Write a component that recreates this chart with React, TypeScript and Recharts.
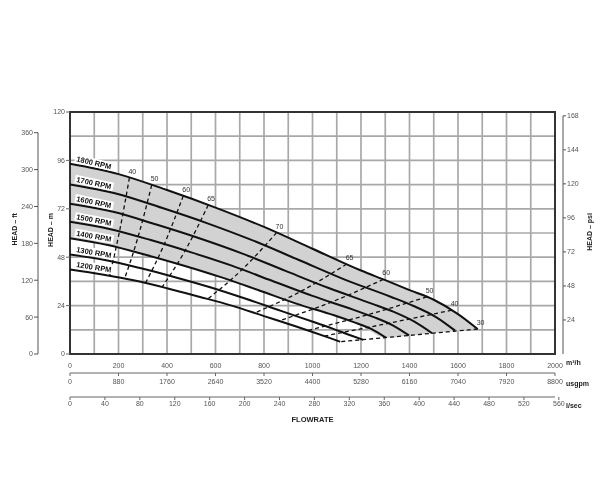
import React from "react";
import {
  Area,
  CartesianGrid,
  ComposedChart,
  Line,
  ReferenceArea,
  XAxis,
  YAxis,
} from "recharts";

// pump curves: flow in m³/h, head in m
const flow1800 = [0, 200, 400, 600, 800, 1000, 1200, 1300, 1400, 1500, 1600, 1681];
const head1800 = [94.3, 89.2, 81.3, 72.6, 63.0, 52.2, 41.4, 36.6, 31.7, 26.9, 19.8, 12.4];
const flow1700 = [0, 189, 378, 567, 756, 944, 1133, 1322, 1417, 1511, 1588];
const head1700 = [84.1, 79.6, 72.5, 64.8, 56.2, 46.6, 36.9, 28.4, 23.8, 18.2, 11.6];
const flow1600 = [0, 178, 356, 533, 711, 889, 1067, 1244, 1333, 1422, 1493];
const head1600 = [74.5, 70.5, 64.2, 57.4, 49.8, 41.2, 32.7, 25.0, 21.0, 15.9, 10.3];
const flow1500 = [0, 167, 333, 500, 667, 833, 1000, 1167, 1250, 1333, 1398];
const head1500 = [65.6, 61.9, 56.5, 50.4, 43.8, 36.3, 28.8, 22.0, 18.4, 14.1, 9.2];
const flow1400 = [0, 156, 311, 467, 622, 778, 933, 1089, 1167, 1244, 1302];
const head1400 = [57.4, 54.0, 49.2, 43.9, 38.1, 31.6, 25.0, 19.2, 15.9, 12.3, 8.1];
const flow1300 = [0, 144, 289, 433, 578, 722, 867, 1011, 1083, 1156, 1210];
const head1300 = [49.3, 46.6, 42.6, 38.1, 33.1, 27.5, 21.5, 15.6, 12.6, 9.3, 7.0];
const flow1200 = [0, 133, 267, 400, 533, 667, 800, 933, 1000, 1067, 1114];
const head1200 = [41.9, 39.4, 36.4, 32.6, 28.4, 24.0, 18.8, 13.6, 10.9, 8.1, 6.1];

// lower edge of the grey band, at the 1800 rpm flows
const shadeFloor = [57.4, 52.7, 46.1, 39.0, 30.6, 22.4, 14.4, 8.1, 9.2, 10.4, 11.5, 12.4];

// efficiency lines: points on the 1800, 1500 and 1200 rpm curves
const effNames = ["40", "50", "60", "65", "70", "65", "60", "50", "40", "30"];
const effFlow = [
  [245, 204, 163],
  [337, 281, 225],
  [467, 389, 311],
  [570, 475, 380],
  [852, 710, 568],
  [1141, 951, 761],
  [1292, 1077, 861],
  [1471, 1226, 981],
  [1574, 1312, 1049],
  [1681, 1398, 1114],
];
const effHead = [
  [87.4, 60.7, 38.7],
  [83.8, 58.2, 37.3],
  [78.4, 54.5, 35.1],
  [73.9, 51.3, 33.2],
  [60.2, 41.9, 27.3],
  [44.6, 31.0, 20.3],
  [37.0, 25.7, 16.4],
  [28.3, 19.4, 11.7],
  [21.7, 15.2, 8.9],
  [12.4, 9.2, 6.1],
];

const flowTicks = [0, 200, 400, 600, 800, 1000, 1200, 1400, 1600, 1800, 2000];
const flowGrid = [0, 100, 200, 300, 400, 500, 600, 700, 800, 900, 1000, 1100, 1200, 1300, 1400, 1500, 1600, 1700, 1800, 1900, 2000];
const gpmTicks = [0, 880, 1760, 2640, 3520, 4400, 5280, 6160, 7040, 7920, 8800];
const lsTicks = [0, 40, 80, 120, 160, 200, 240, 280, 320, 360, 400, 440, 480, 520, 560];
const headTicks = [0, 24, 48, 72, 96, 120];
const headGrid = [0, 12, 24, 36, 48, 60, 72, 84, 96, 108, 120];
const ftTicks = [0, 60, 120, 180, 240, 300, 360];
const psiTicks = [24, 48, 72, 96, 120, 144, 168];

const curves = [
  { name: "1800 RPM", flow: flow1800, head: head1800, tilt: 13 },
  { name: "1700 RPM", flow: flow1700, head: head1700, tilt: 12 },
  { name: "1600 RPM", flow: flow1600, head: head1600, tilt: 11.5 },
  { name: "1500 RPM", flow: flow1500, head: head1500, tilt: 11 },
  { name: "1400 RPM", flow: flow1400, head: head1400, tilt: 10 },
  { name: "1300 RPM", flow: flow1300, head: head1300, tilt: 9.5 },
  { name: "1200 RPM", flow: flow1200, head: head1200, tilt: 9 },
];

const band = flow1800.map((q, i) => ({ q, band: [shadeFloor[i], head1800[i]] }));

const tickStyle = { fontSize: 7, fill: "#555" };
const ink = "#111";

function rpmLabel(text: string, tilt: number) {
  return (p: any) => {
    if (p.index !== 0) return null;
    const x = p.x + 6;
    const y = p.y - 2.5;
    return (
      <g transform={`translate(${x},${y}) rotate(${tilt})`}>
        <rect x={-1.5} y={-7} width={39} height={8.5} fill="#fff" />
        <text x={0} y={0} fontSize={7.5} fontWeight="bold" fill={ink}>
          {text}
        </text>
      </g>
    );
  };
}

function effLabel(text: string) {
  return (p: any) =>
    p.index === 0 ? (
      <text x={p.x - 1} y={p.y - 4} fontSize={7} fill="#333">
        {text}
      </text>
    ) : null;
}

function sideTitle(text: string, dx: number, dy: number) {
  return (p: any) => {
    const vb = p.viewBox;
    const x = vb.x + dx;
    const y = vb.y + vb.height / 2 + dy;
    return (
      <text x={x} y={y} transform={`rotate(-90 ${x} ${y})`} textAnchor="middle" dominantBaseline="central" fontSize={7} fontWeight="bold" fill="#222">
        {text}
      </text>
    );
  };
}

function unitTitle(text: string, dy: number) {
  return (p: any) => {
    const vb = p.viewBox;
    return (
      <text x={vb.x + vb.width + 11} y={vb.y + dy} dominantBaseline="central" fontSize={7} fontWeight="bold" fill="#222">
        {text}
      </text>
    );
  };
}

function flowTitle(p: any) {
  const vb = p.viewBox;
  return (
    <text x={vb.x + vb.width / 2} y={vb.y + 22} textAnchor="middle" dominantBaseline="central" fontSize={7.5} fontWeight="bold" fill="#222">
      FLOWRATE
    </text>
  );
}

function MainChart() {
  return (
    <ComposedChart width={600} height={500} margin={{ top: 112, right: 45, bottom: 73, left: 38 }}>
      <CartesianGrid xAxisId="ax1" yAxisId="m" stroke="#a8a8a8" strokeWidth={1.7} verticalValues={flowGrid} horizontalValues={headGrid} />
      <XAxis
        xAxisId="ax1"
        dataKey="q"
        type="number"
        domain={[0, 2000]}
        ticks={flowTicks}
        height={19}
        tickLine={false}
        axisLine={false}
        tickMargin={3}
        tick={tickStyle}
        interval={0}
        label={{ content: unitTitle("m³/h", 8) }}
      />
      <XAxis
        xAxisId="ax2"
        dataKey="q"
        type="number"
        domain={[0, 8800]}
        ticks={gpmTicks}
        height={24}
        tickSize={3}
        tickMargin={3}
        axisLine={{ stroke: "#666" }}
        tickLine={{ stroke: "#666" }}
        tick={tickStyle}
        interval={0}
        label={{ content: unitTitle("usgpm", 10) }}
      />
      <XAxis
        xAxisId="ax3"
        dataKey="q"
        type="number"
        domain={[0, 555.6]}
        ticks={lsTicks}
        height={30}
        tickSize={3}
        tickMargin={1}
        axisLine={{ stroke: "#666" }}
        tickLine={{ stroke: "#666" }}
        tick={tickStyle}
        interval={0}
        allowDataOverflow
        label={{ content: (p: any) => <g>{unitTitle("l/sec", 8)(p)}{flowTitle(p)}</g> }}
      />
      <YAxis
        yAxisId="m"
        type="number"
        domain={[0, 120]}
        ticks={headTicks}
        width={32}
        tickSize={4}
        tickMargin={1}
        axisLine={false}
        tickLine={{ stroke: "#666" }}
        tick={tickStyle}
        interval={0}
        label={{ content: sideTitle("HEAD – m", 12, -3) }}
      />
      {/* invisible series so the two extra flow axes get drawn */}
      <Line xAxisId="ax2" yAxisId="m" data={gpmTicks.map((q) => ({ q, h: 0 }))} dataKey="h" stroke="none" dot={false} activeDot={false} isAnimationActive={false} />
      <Line xAxisId="ax3" yAxisId="m" data={lsTicks.map((q) => ({ q, h: 0 }))} dataKey="h" stroke="none" dot={false} activeDot={false} isAnimationActive={false} />
      <Area
        xAxisId="ax1"
        yAxisId="m"
        data={band}
        dataKey="band"
        type="monotone"
        stroke="none"
        fill="#d2d2d2"
        fillOpacity={1}
        isAnimationActive={false}
      />
      {effNames.map((name, k) => (
        <Line
          key={`eff${k}`}
          xAxisId="ax1"
          yAxisId="m"
          data={effFlow[k].map((q, i) => ({ q, h: effHead[k][i] }))}
          dataKey="h"
          type="monotone"
          stroke={ink}
          strokeWidth={1.3}
          strokeDasharray="4 3"
          dot={false}
          activeDot={false}
          label={effLabel(name)}
          isAnimationActive={false}
        />
      ))}
      {curves.map((c) => (
        <Line
          key={c.name}
          xAxisId="ax1"
          yAxisId="m"
          data={c.flow.map((q, i) => ({ q, h: c.head[i] }))}
          dataKey="h"
          type="monotone"
          stroke={ink}
          strokeWidth={2}
          dot={false}
          activeDot={false}
          label={rpmLabel(c.name, c.tilt)}
          isAnimationActive={false}
        />
      ))}
      <ReferenceArea xAxisId="ax1" yAxisId="m" x1={0} x2={2000} y1={0} y2={120} fill="none" stroke="#333" strokeWidth={2} ifOverflow="visible" />
    </ComposedChart>
  );
}

// head in feet: 360 ft sits at 109.7 m, so its axis is shorter than the plot
function FeetAxis() {
  return (
    <ComposedChart width={70} height={500} data={ftTicks.map((v) => ({ v }))} margin={{ top: 132.7, right: 0, bottom: 146, left: 0 }}>
      <XAxis hide />
      <YAxis
        type="number"
        domain={[0, 360]}
        ticks={ftTicks}
        width={38}
        orientation="left"
        tickSize={4}
        tickMargin={1}
        axisLine={{ stroke: "#555" }}
        tickLine={{ stroke: "#555" }}
        tick={tickStyle}
        interval={0}
        label={{ content: sideTitle("HEAD – ft", 15, -14) }}
      />
      <Line dataKey="v" stroke="none" dot={false} activeDot={false} isAnimationActive={false} />
    </ComposedChart>
  );
}

// head in psi: 168 psi sits at 118.1 m
function PsiAxis() {
  return (
    <ComposedChart width={45} height={500} data={psiTicks.map((v) => ({ v }))} margin={{ top: 115.8, right: 0, bottom: 146, left: 0 }}>
      <XAxis hide />
      <YAxis
        type="number"
        domain={[0, 168]}
        ticks={psiTicks}
        width={37}
        orientation="right"
        tickSize={3}
        tickMargin={1}
        axisLine={{ stroke: "#555" }}
        tickLine={{ stroke: "#555" }}
        tick={tickStyle}
        interval={0}
        label={{ content: sideTitle("HEAD – psi", 27, -3) }}
      />
      <Line dataKey="v" stroke="none" dot={false} activeDot={false} isAnimationActive={false} />
    </ComposedChart>
  );
}

export default function App() {
  return (
    <div style={{ position: "absolute", left: 0, top: 0, width: 600, height: 500, background: "#fff", filter: "grayscale(1)", fontFamily: "'Liberation Sans', Arial, sans-serif" }}>
      <div style={{ position: "absolute", left: 0, top: 0 }}>
        <MainChart />
      </div>
      <div style={{ position: "absolute", left: 0, top: 0 }}>
        <FeetAxis />
      </div>
      <div style={{ position: "absolute", left: 555, top: 0 }}>
        <PsiAxis />
      </div>
    </div>
  );
}
